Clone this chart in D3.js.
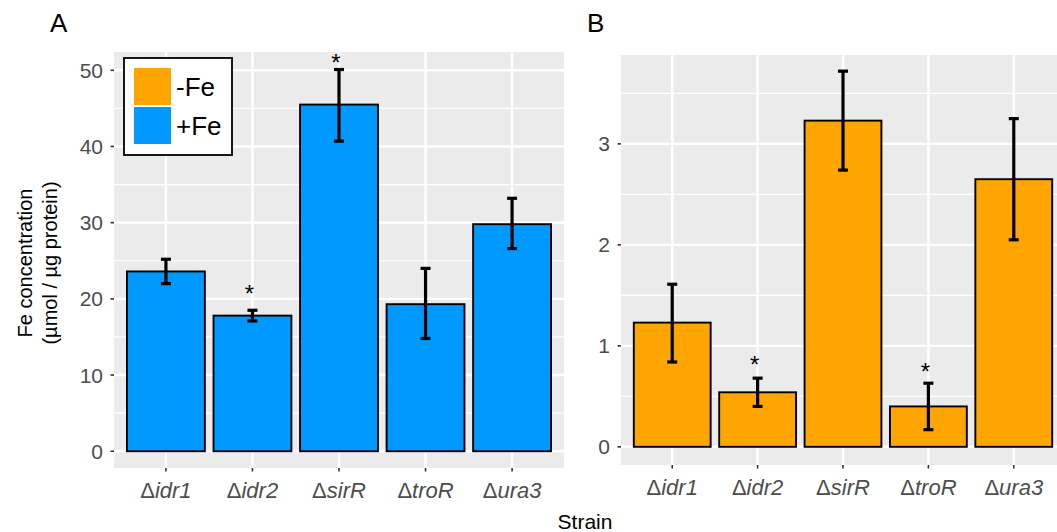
<!DOCTYPE html>
<html>
<head>
<meta charset="utf-8">
<script src="https://cdn.jsdelivr.net/npm/d3@7"></script>
<style>
  body { margin: 0; background: #fff; }
  text { font-family: "Liberation Sans", Arial, sans-serif; }
</style>
</head>
<body>
<div id="chart"></div>
<script>
// Data
const strains = ["idr1", "idr2", "sirR", "troR", "ura3"];

// Panel A: +Fe
const plusFe = [23.6, 17.8, 45.5, 19.3, 29.8];
const plusFeLo = [22.0, 17.1, 40.7, 14.8, 26.6];
const plusFeHi = [25.2, 18.5, 50.1, 24.0, 33.2];
// where the significance star sits (null = none)
const plusFeStar = [null, 21.3, 51.6, null, null];
const plusFeTicks = [0, 10, 20, 30, 40, 50];

// Panel B: -Fe
const minusFe = [1.23, 0.54, 3.23, 0.40, 2.65];
const minusFeLo = [0.84, 0.40, 2.74, 0.17, 2.05];
const minusFeHi = [1.61, 0.68, 3.72, 0.63, 3.25];
const minusFeStar = [null, 0.86, null, 0.79, null];
const minusFeTicks = [0, 1, 2, 3];

const legendLabels = ["-Fe", "+Fe"];
const colours = { "-Fe": "#FFA500", "+Fe": "#0099FF" };

const width = 1057;
const height = 532;

const svg = d3.select("#chart").append("svg")
    .attr("width", width)
    .attr("height", height);

// draw one ggplot-like panel
function drawPanel(opts) {
    const g = svg.append("g");
    // ggplot discrete expansion: 0.6 units each side
    const x = d3.scalePoint()
        .domain(strains)
        .range([opts.x0, opts.x1])
        .padding(0.6);
    const step = x.step();
    const barW = step * 0.9;

    const y = d3.scaleLinear().domain(opts.yDomain).range([opts.y1, opts.y0]);

    // background
    g.append("rect")
        .attr("x", opts.x0).attr("y", opts.y0)
        .attr("width", opts.x1 - opts.x0).attr("height", opts.y1 - opts.y0)
        .attr("fill", "#EBEBEB");

    // minor grid at half steps
    const half = (opts.ticks[1] - opts.ticks[0]) / 2;
    const minor = [opts.ticks[0] - half].concat(opts.ticks.map(t => t + half))
        .filter(v => y(v) > opts.y0 && y(v) < opts.y1);
    g.selectAll(".minor").data(minor)
        .enter().append("line")
        .attr("x1", opts.x0).attr("x2", opts.x1)
        .attr("y1", d => y(d)).attr("y2", d => y(d))
        .attr("stroke", "#fff").attr("stroke-width", 1.2);

    // major grid
    g.selectAll(".major").data(opts.ticks)
        .enter().append("line")
        .attr("x1", opts.x0).attr("x2", opts.x1)
        .attr("y1", d => y(d)).attr("y2", d => y(d))
        .attr("stroke", "#fff").attr("stroke-width", 2.4);
    g.selectAll(".vmajor").data(strains)
        .enter().append("line")
        .attr("x1", d => x(d)).attr("x2", d => x(d))
        .attr("y1", opts.y0).attr("y2", opts.y1)
        .attr("stroke", "#fff").attr("stroke-width", 2.4);

    // bars
    g.selectAll(".bar").data(strains)
        .enter().append("rect")
        .attr("x", d => x(d) - barW / 2)
        .attr("width", barW)
        .attr("y", (d, i) => y(opts.values[i]))
        .attr("height", (d, i) => y(0) - y(opts.values[i]))
        .attr("fill", opts.fill)
        .attr("stroke", "#000")
        .attr("stroke-width", 1.9);

    // error bars
    const eb = g.selectAll(".eb").data(strains).enter().append("g")
        .attr("stroke", "#000").attr("stroke-width", 3.2);
    eb.append("line")
        .attr("x1", d => x(d)).attr("x2", d => x(d))
        .attr("y1", (d, i) => y(opts.lo[i])).attr("y2", (d, i) => y(opts.hi[i]));
    eb.append("line")
        .attr("x1", d => x(d) - 5).attr("x2", d => x(d) + 5)
        .attr("y1", (d, i) => y(opts.lo[i])).attr("y2", (d, i) => y(opts.lo[i]));
    eb.append("line")
        .attr("x1", d => x(d) - 5).attr("x2", d => x(d) + 5)
        .attr("y1", (d, i) => y(opts.hi[i])).attr("y2", (d, i) => y(opts.hi[i]));

    // asterisks
    g.selectAll(".star").data(strains.filter((d, i) => opts.star[i] !== null))
        .enter().append("text")
        .attr("x", d => x(d) - 3)
        .attr("y", d => y(opts.star[strains.indexOf(d)]) + 13)
        .attr("text-anchor", "middle")
        .attr("font-size", 24)
        .attr("fill", "#000")
        .text("*");

    // y axis ticks + labels
    g.selectAll(".ytick").data(opts.ticks)
        .enter().append("line")
        .attr("x1", opts.x0 - 3.5).attr("x2", opts.x0)
        .attr("y1", d => y(d)).attr("y2", d => y(d))
        .attr("stroke", "#333").attr("stroke-width", 1.6);
    g.selectAll(".ylab").data(opts.ticks)
        .enter().append("text")
        .attr("x", opts.x0 - 11)
        .attr("y", d => y(d))
        .attr("dy", "0.36em")
        .attr("text-anchor", "end")
        .attr("font-size", 21)
        .attr("fill", "#4D4D4D")
        .text(d => d);

    // x axis ticks + labels
    g.selectAll(".xtick").data(strains)
        .enter().append("line")
        .attr("x1", d => x(d)).attr("x2", d => x(d))
        .attr("y1", opts.y1).attr("y2", opts.y1 + 3.5)
        .attr("stroke", "#333").attr("stroke-width", 1.6);
    const xl = g.selectAll(".xlab").data(strains)
        .enter().append("text")
        .attr("x", d => x(d))
        .attr("y", opts.y1 + 30)
        .attr("text-anchor", "middle")
        .attr("font-size", 22)
        .attr("font-style", "italic")
        .attr("fill", "#4D4D4D");
    xl.append("tspan").attr("font-style", "normal").text("\u0394");
    xl.append("tspan").text(d => d);

    // panel tag
    svg.append("text")
        .attr("x", opts.tagX).attr("y", 32)
        .attr("font-size", 26)
        .attr("fill", "#000")
        .text(opts.tag);
}

drawPanel({
    tag: "A", tagX: 50,
    x0: 114, x1: 564, y0: 52, y1: 468,
    yDomain: [-2.2, 52.4],
    ticks: plusFeTicks,
    values: plusFe, lo: plusFeLo, hi: plusFeHi, star: plusFeStar,
    fill: colours["+Fe"]
});

drawPanel({
    tag: "B", tagX: 587,
    x0: 621, x1: 1065, y0: 55, y1: 465,
    yDomain: [-0.18, 3.88],
    ticks: minusFeTicks,
    values: minusFe, lo: minusFeLo, hi: minusFeHi, star: minusFeStar,
    fill: colours["-Fe"]
});

// legend inside panel A
const legend = svg.append("g");
legend.append("rect")
    .attr("x", 124).attr("y", 58)
    .attr("width", 108).attr("height", 97)
    .attr("fill", "#fff")
    .attr("stroke", "#000")
    .attr("stroke-width", 1.8);
legendLabels.forEach((lab, i) => {
    legend.append("rect")
        .attr("x", 134).attr("y", 68 + i * 39)
        .attr("width", 37).attr("height", 37)
        .attr("fill", colours[lab]);
    legend.append("text")
        .attr("x", 176).attr("y", 68 + i * 39 + 18.5)
        .attr("dy", "0.36em")
        .attr("font-size", 26)
        .attr("fill", "#000")
        .text(lab);
});

// axis titles
const yTitle = svg.append("text")
    .attr("transform", "translate(32,263) rotate(-90)")
    .attr("text-anchor", "middle")
    .attr("font-size", 20)
    .attr("fill", "#000");
yTitle.append("tspan").attr("x", 0).attr("y", 0).text("Fe concentration");
yTitle.append("tspan").attr("x", 0).attr("y", 25).text("(\u00B5mol / \u00B5g protein)");

svg.append("text")
    .attr("x", 585).attr("y", 529)
    .attr("text-anchor", "middle")
    .attr("font-size", 21)
    .attr("fill", "#000")
    .text("Strain");
</script>
</body>
</html>
